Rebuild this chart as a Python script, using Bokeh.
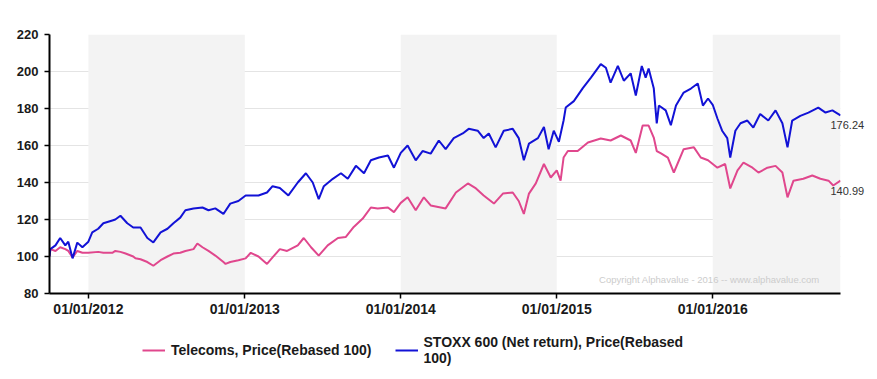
import pandas as pd
from bokeh.plotting import figure
from bokeh.layouts import column
from bokeh.models import (BoxAnnotation, Label, Legend, LegendItem, FixedTicker, Range1d, LinearAxis)
from bokeh.embed import file_html
from bokeh.resources import INLINE

# ---- data ----
stoxx_dates = ["2011-10-02","2011-10-04","2011-10-16","2011-10-27","2011-11-08","2011-11-15","2011-11-25","2011-12-06","2011-12-18",
"2012-01-01","2012-01-10","2012-01-24","2012-02-05","2012-02-26","2012-03-04","2012-03-16","2012-04-01","2012-04-15","2012-05-02",
"2012-05-18","2012-06-01","2012-06-18","2012-07-04","2012-07-18","2012-08-03","2012-08-15","2012-09-03","2012-09-24","2012-10-08",
"2012-10-24","2012-11-12","2012-11-28","2012-12-17","2013-01-03","2013-01-15","2013-02-02","2013-02-22","2013-03-07","2013-03-24",
"2013-04-13","2013-05-05","2013-05-24","2013-06-09","2013-06-23","2013-07-05","2013-07-26","2013-08-14","2013-08-30","2013-09-18",
"2013-10-07","2013-10-23","2013-11-11","2013-12-02","2013-12-16","2014-01-01","2014-01-17","2014-02-05","2014-02-21","2014-03-12",
"2014-03-31","2014-04-16","2014-05-05","2014-05-26","2014-06-09","2014-06-30","2014-07-14","2014-07-26","2014-08-11","2014-08-30",
"2014-09-20","2014-10-04","2014-10-16","2014-10-28","2014-11-18","2014-12-02","2014-12-13","2014-12-25","2015-01-06","2015-01-17",
"2015-01-22","2015-02-10","2015-03-03","2015-03-22","2015-04-14","2015-04-26","2015-05-07","2015-05-24","2015-06-07","2015-06-23",
"2015-07-05","2015-07-19","2015-07-28","2015-08-04","2015-08-16","2015-08-23","2015-08-28","2015-09-13","2015-09-25","2015-10-07",
"2015-10-25","2015-11-11","2015-11-27","2015-12-09","2015-12-21","2016-01-01","2016-01-12","2016-01-23","2016-02-04","2016-02-11",
"2016-02-23","2016-03-06","2016-03-22","2016-04-05","2016-04-21","2016-05-10","2016-05-27","2016-06-12","2016-06-24","2016-07-05",
"2016-07-24","2016-08-12","2016-09-04","2016-09-21","2016-10-07","2016-10-26"]
stoxx_values = [100,104,106,110,106,108,99,107.5,105,
108,113,115,118,119.5,120,122,118,115.7,115.7,
110,107.6,113,115,118,121,125,126,126.5,125,
126,123,128.6,130,133,133,133,134.6,138,137,
133,140,145,140,131,138,142,145,142,149,
145,152,153.5,154.6,148,156,160,152,157,155.6,
162.7,158,164,166.5,169,168,164,166.5,159,168,
169,164,152,161,164,170,158,168,162,173.5,
180.5,184,191,196.7,204,202,194,203,195,199,
187,203,196.7,201.6,191,172,181.6,179,171,181.6,
188.6,190.8,193.5,181.6,185.4,182,174.6,168,164,153.5,
168,172,173.5,169.7,177,173.5,179,172,159,173.5,
176,177.8,180.5,177.8,179,176.24]

tel_dates = ["2011-10-02","2011-10-04","2011-10-16","2011-10-27","2011-11-08","2011-11-15","2011-11-25","2011-12-06","2011-12-18",
"2012-01-01","2012-01-24","2012-02-05","2012-02-26","2012-03-04","2012-03-16","2012-03-28","2012-04-15","2012-04-20","2012-05-02",
"2012-05-18","2012-06-01","2012-06-18","2012-07-04","2012-07-18","2012-08-03","2012-08-15","2012-09-03","2012-09-12","2012-09-24",
"2012-10-08","2012-10-24","2012-11-12","2012-11-17","2012-11-28","2012-12-17","2013-01-03","2013-01-15","2013-02-02","2013-02-22",
"2013-03-07","2013-03-24","2013-04-10","2013-05-05","2013-05-19","2013-06-05","2013-06-23","2013-07-14","2013-08-07","2013-08-25",
"2013-09-13","2013-10-04","2013-10-23","2013-11-08","2013-12-02","2013-12-16","2014-01-01","2014-01-17","2014-02-05","2014-02-24",
"2014-03-12","2014-04-16","2014-05-10","2014-06-07","2014-06-26","2014-07-14","2014-08-07","2014-08-28","2014-09-20","2014-10-04",
"2014-10-16","2014-10-28","2014-11-13","2014-12-02","2014-12-18","2015-01-01","2015-01-10","2015-01-17","2015-01-27","2015-02-19",
"2015-03-15","2015-04-14","2015-05-07","2015-05-31","2015-06-23","2015-07-05","2015-07-21","2015-08-04","2015-08-16","2015-08-23",
"2015-09-02","2015-09-18","2015-10-02","2015-10-25","2015-11-18","2015-12-04","2015-12-21","2016-01-01","2016-01-12","2016-01-30",
"2016-02-11","2016-02-28","2016-03-13","2016-04-03","2016-04-17","2016-05-08","2016-05-27","2016-06-12","2016-06-24","2016-07-08",
"2016-07-31","2016-08-21","2016-09-09","2016-09-28","2016-10-09","2016-10-26"]
tel_values = [100,104,103,105,104,103,99.5,103,102,
102,102.5,102,102,103,102.5,101.6,100,99,98.5,
97,95,98,100,101.6,102,103,104,107,105,
103,100.5,97,96,97,98,99,102,100,96,
99.5,104,103,106,110,105,100.5,106,110,110.5,
116,120.5,126.5,126,126.5,124,129,132,125,132,
127.6,126,134.6,139.5,136.8,133,128.6,134,134.6,130,
123,134,139.5,150,142.7,146.5,141,153.5,157,157,
161.6,163.8,162.7,165.4,162.7,156,170.8,170.8,164.3,157,
155.7,153.5,145.4,158,159,153.5,152,150,148,150,
136.8,146.5,150.8,148,145.4,148,149,145.4,132,141,
142,143.8,142,141,138.4,140.99]

series_names = ["Telecoms, Price(Rebased 100)", "STOXX 600 (Net return), Price(Rebased\n100)"]
y_ticks = [80, 100, 120, 140, 160, 180, 200, 220]
x_tick_dates = ["2012-01-01", "2013-01-01", "2014-01-01", "2015-01-01", "2016-01-01"]
x_tick_labels = ["01/01/2012", "01/01/2013", "01/01/2014", "01/01/2015", "01/01/2016"]
shaded_years = [("2012-01-01", "2013-01-01"), ("2014-01-01", "2015-01-01"), ("2016-01-01", "2016-10-26")]
copyright_text = "Copyright Alphavalue - 2016 -- www.alphavalue.com"

def ms(d):
    return pd.Timestamp(d).value / 1e6

PINK = "#e0478d"
BLUE = "#1212d6"
FONT = "Liberation Sans"

p = figure(width=868, height=320, x_axis_type="datetime", output_backend="svg",
           toolbar_location=None, min_border_left=49, min_border_right=28,
           min_border_top=34, min_border_bottom=27,
           x_range=Range1d(ms(stoxx_dates[0]), ms(stoxx_dates[-1])),
           y_range=Range1d(y_ticks[0], y_ticks[-1]))
p.outline_line_color = None
p.background_fill_color = "white"

for a, b in shaded_years:
    p.add_layout(BoxAnnotation(left=ms(a), right=ms(b), fill_color="#f3f3f3",
                               fill_alpha=1, line_color=None, level="underlay"))

p.xgrid.visible = False
p.ygrid.grid_line_color = "#e4e4e4"
p.ygrid.grid_line_width = 1

r_tel = p.line([pd.Timestamp(d) for d in tel_dates], tel_values, color=PINK, line_width=2)
r_stx = p.line([pd.Timestamp(d) for d in stoxx_dates], stoxx_values, color=BLUE, line_width=2)

# axes
p.yaxis.ticker = FixedTicker(ticks=y_ticks)
p.xaxis.ticker = FixedTicker(ticks=[ms(d) for d in x_tick_dates])
p.xaxis.major_label_overrides = {ms(d): l for d, l in zip(x_tick_dates, x_tick_labels)}
for ax in (p.xaxis, p.yaxis):
    ax.axis_line_color = "black"
    ax.axis_line_width = 2
    ax.major_tick_line_color = "black"
    ax.major_tick_line_width = 1.5
    ax.major_tick_out = 5
    ax.major_tick_in = 0
    ax.minor_tick_line_color = None
    ax.major_label_text_font = FONT
    ax.major_label_text_font_style = "bold"
    ax.major_label_text_color = "#1a1a1a"
p.yaxis.major_label_text_font_size = "13px"
p.xaxis.major_label_text_font_size = "14px"
p.yaxis.major_label_standoff = 6
p.xaxis.major_label_standoff = 2

# end-value labels as a bare right axis (so they can overhang the frame edge)
last_vals = [stoxx_values[-1], tel_values[-1]]
PX_PER_UNIT = 259 / (y_ticks[-1] - y_ticks[0])
end_ticks = [round(v - 10 / PX_PER_UNIT, 2) for v in last_vals]
end_axis = LinearAxis(ticker=FixedTicker(ticks=end_ticks),
                      major_label_overrides={t: f"{v:.2f}" for t, v in zip(end_ticks, last_vals)},
                      axis_line_color=None, major_tick_line_color=None, minor_tick_line_color=None,
                      major_tick_out=0, major_tick_in=0, major_label_standoff=-10,
                      major_label_text_font=FONT, major_label_text_font_size="11px",
                      major_label_text_color="#333333")
p.add_layout(end_axis, "right")

p.add_layout(Label(x=ms("2015-04-10"), y=87.6, text=copyright_text, text_font=FONT,
                   text_font_size="9.5px", text_color="#cccccc", text_baseline="middle"))

# legend strip below the chart
nan = float("nan")
p2 = figure(width=868, height=50, output_backend="svg", toolbar_location=None,
            min_border=0, x_axis_location=None, y_axis_location=None,
            x_range=Range1d(0, 1), y_range=Range1d(0, 1))
p2.grid.visible = False
p2.outline_line_color = None
l_tel = p2.line([nan, nan], [nan, nan], color=PINK, line_width=2)
l_stx = p2.line([nan, nan], [nan, nan], color=BLUE, line_width=2)
legend = Legend(items=[LegendItem(label=series_names[0], renderers=[l_tel]),
                       LegendItem(label=series_names[1], renderers=[l_stx])],
                orientation="horizontal", location=(93, 4),
                border_line_color=None, background_fill_alpha=0,
                label_text_font=FONT, label_text_font_style="bold",
                label_text_font_size="14px", label_text_color="#1a1a1a",
                glyph_width=23, label_standoff=6, spacing=23, padding=0, margin=0)
p2.add_layout(legend)

open("out.html", "w").write(file_html(column(p, p2, spacing=0), INLINE))
